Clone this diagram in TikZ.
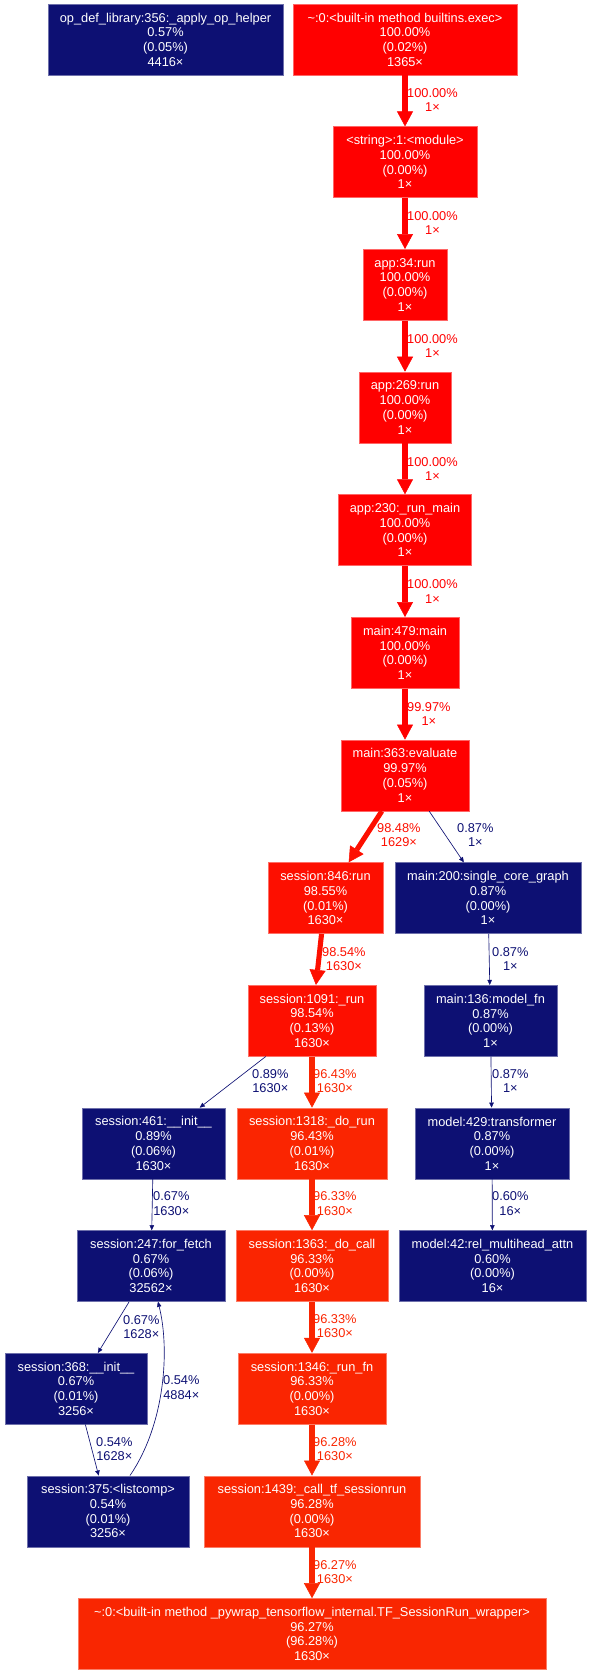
\documentclass[tikz,border=0pt]{standalone}
\usepackage{fontspec}
\setmainfont{Liberation Sans}
\usepackage{xcolor}
\usetikzlibrary{arrows.meta}
\definecolor{prof-red}{RGB}{255,0,0}
\definecolor{prof-redorange}{RGB}{253,15,0}
\definecolor{prof-orange}{RGB}{250,37,1}
\definecolor{prof-orangeb}{RGB}{249,38,1}
\definecolor{prof-blue}{RGB}{13,16,115}

\begin{document}
\begin{tikzpicture}[
  x=1pt, y=-1pt,
  fn/.style={rectangle, fill=#1, draw=#1!60!white, line width=0.6pt, minimum height=71pt, inner xsep=2pt, inner ysep=0pt, align=center, text=white, font=\fontsize{12.8}{14.7}\selectfont},
  hot/.style={-{Triangle[length=15pt,width=16pt,line width=0.5pt]}, line width=5.1pt, draw=#1},
  cold/.style={-{Triangle[length=5pt,width=4.5pt,line width=0.3pt]}, line width=0.65pt, draw=prof-blue},
  lbl/.style={anchor=west, align=center, text=#1, inner sep=0pt, font=\fontsize{12.8}{14.7}\selectfont},
]
  \useasboundingbox (0,0) rectangle (590,1675);

  % Top row
  \node[fn=prof-blue, minimum width=235] (opdef) at (165.5,39.5) {op\_def\_library:356:\_apply\_op\_helper\\0.57\%\\(0.05\%)\\4416×};
  \node[fn=prof-red, minimum width=224] (exec) at (405,39.5) {\textasciitilde:0:<built-in method builtins.exec>\\100.00\%\\(0.02\%)\\1365×};

  % Main chain
  \node[fn=prof-red, minimum width=144] (module) at (405,162.2) {<string>:1:<module>\\100.00\%\\(0.00\%)\\1×};
  \node[fn=prof-red, minimum width=84] (app34) at (405,284.8) {app:34:run\\100.00\%\\(0.00\%)\\1×};
  \node[fn=prof-red, minimum width=92] (app269) at (405,407.5) {app:269:run\\100.00\%\\(0.00\%)\\1×};
  \node[fn=prof-red, minimum width=133] (app230) at (405,530.1) {app:230:\_run\_main\\100.00\%\\(0.00\%)\\1×};
  \node[fn=prof-red, minimum width=108] (main479) at (405,652.8) {main:479:main\\100.00\%\\(0.00\%)\\1×};
  \node[fn=prof-red, minimum width=128] (evaluate) at (405,775.4) {main:363:evaluate\\99.97\%\\(0.05\%)\\1×};

  % Session branch
  \node[fn=prof-redorange, minimum width=115] (sess846) at (325.5,898.1) {session:846:run\\98.55\%\\(0.01\%)\\1630×};
  \node[fn=prof-redorange, minimum width=128] (sess1091) at (312,1020.7) {session:1091:\_run\\98.54\%\\(0.13\%)\\1630×};
  \node[fn=prof-orange, minimum width=150] (dorun) at (312,1143.4) {session:1318:\_do\_run\\96.43\%\\(0.01\%)\\1630×};
  \node[fn=prof-orange, minimum width=152] (docall) at (312,1266) {session:1363:\_do\_call\\96.33\%\\(0.00\%)\\1630×};
  \node[fn=prof-orange, minimum width=148] (runfn) at (312,1388.7) {session:1346:\_run\_fn\\96.33\%\\(0.00\%)\\1630×};
  \node[fn=prof-orangeb, minimum width=216] (calltf) at (312,1511.3) {session:1439:\_call\_tf\_sessionrun\\96.28\%\\(0.00\%)\\1630×};
  \node[fn=prof-orangeb, minimum width=468] (wrapper) at (312,1634) {\textasciitilde:0:<built-in method \_pywrap\_tensorflow\_internal.TF\_SessionRun\_wrapper>\\96.27\%\\(96.28\%)\\1630×};

  % Fetch branch
  \node[fn=prof-blue, minimum width=143] (init461) at (153.5,1143.4) {session:461:\_\_init\_\_\\0.89\%\\(0.06\%)\\1630×};
  \node[fn=prof-blue, minimum width=148] (forfetch) at (151,1266) {session:247:for\_fetch\\0.67\%\\(0.06\%)\\32562×};
  \node[fn=prof-blue, minimum width=142] (init368) at (76,1388.7) {session:368:\_\_init\_\_\\0.67\%\\(0.01\%)\\3256×};
  \node[fn=prof-blue, minimum width=162] (listcomp) at (108,1511.3) {session:375:<listcomp>\\0.54\%\\(0.01\%)\\3256×};

  % Graph branch
  \node[fn=prof-blue, minimum width=186] (single) at (488,898.1) {main:200:single\_core\_graph\\0.87\%\\(0.00\%)\\1×};
  \node[fn=prof-blue, minimum width=133] (modelfn) at (490.5,1020.7) {main:136:model\_fn\\0.87\%\\(0.00\%)\\1×};
  \node[fn=prof-blue, minimum width=154] (transformer) at (492,1143.4) {model:429:transformer\\0.87\%\\(0.00\%)\\1×};
  \node[fn=prof-blue, minimum width=187] (multihead) at (492.5,1266) {model:42:rel\_multihead\_attn\\0.60\%\\(0.00\%)\\16×};

  % Hot calls
  \draw[hot=prof-red] (exec) -- (module);
  \draw[hot=prof-red] (module) -- (app34);
  \draw[hot=prof-red] (app34) -- (app269);
  \draw[hot=prof-red] (app269) -- (app230);
  \draw[hot=prof-red] (app230) -- (main479);
  \draw[hot=prof-red] (main479) -- (evaluate);
  \draw[hot=prof-redorange] (evaluate) -- (sess846);
  \draw[hot=prof-redorange] (sess846) -- (sess1091);
  \draw[hot=prof-orange] (sess1091) -- (dorun);
  \draw[hot=prof-orange] (dorun) -- (docall);
  \draw[hot=prof-orange] (docall) -- (runfn);
  \draw[hot=prof-orangeb] (runfn) -- (calltf);
  \draw[hot=prof-orangeb] (calltf) -- (wrapper);

  % Cold calls
  \draw[cold] (evaluate) -- (single);
  \draw[cold] (single) -- (modelfn);
  \draw[cold] (modelfn) -- (transformer);
  \draw[cold] (transformer) -- (multihead);
  \draw[cold] (sess1091) -- (init461);
  \draw[cold] (init461) -- (forfetch);
  \draw[cold] (forfetch) -- (init368);
  \draw[cold] (init368) -- (listcomp);
  \draw[cold] ([xshift=22]listcomp.north) .. controls +(35,-51) and +(12,48) .. ([xshift=7]forfetch.south);

  % Edge labels
  \node[lbl=prof-red] (l-exec) at (407,100) {100.00\%\\1×};
  \node[lbl=prof-red] (l-module) at (407,223) {100.00\%\\1×};
  \node[lbl=prof-red] (l-app34) at (407,346) {100.00\%\\1×};
  \node[lbl=prof-red] (l-app269) at (407,469) {100.00\%\\1×};
  \node[lbl=prof-red] (l-app230) at (407,591.5) {100.00\%\\1×};
  \node[lbl=prof-red] (l-main479) at (407,714) {99.97\%\\1×};
  \node[lbl=prof-redorange] (l-evaluate) at (377,835) {98.48\%\\1629×};
  \node[lbl=prof-blue] (l-single) at (457,835) {0.87\%\\1×};
  \node[lbl=prof-redorange] (l-sess846) at (322,959) {98.54\%\\1630×};
  \node[lbl=prof-blue] (l-modelfn) at (492,959) {0.87\%\\1×};
  \node[lbl=prof-blue] (l-init461) at (252,1081) {0.89\%\\1630×};
  \node[lbl=prof-orange] (l-dorun) at (313,1081) {96.43\%\\1630×};
  \node[lbl=prof-blue] (l-transformer) at (492,1081) {0.87\%\\1×};
  \node[lbl=prof-blue] (l-forfetch) at (153,1203.5) {0.67\%\\1630×};
  \node[lbl=prof-orange] (l-docall) at (313,1203.5) {96.33\%\\1630×};
  \node[lbl=prof-blue] (l-multihead) at (492,1203.5) {0.60\%\\16×};
  \node[lbl=prof-blue] (l-init368) at (123,1327) {0.67\%\\1628×};
  \node[lbl=prof-blue] (l-back) at (163,1387.5) {0.54\%\\4884×};
  \node[lbl=prof-orange] (l-runfn) at (313,1326) {96.33\%\\1630×};
  \node[lbl=prof-blue] (l-listcomp) at (96,1449) {0.54\%\\1628×};
  \node[lbl=prof-orangeb] (l-calltf) at (313,1449) {96.28\%\\1630×};
  \node[lbl=prof-orangeb] (l-wrapper) at (313,1572) {96.27\%\\1630×};
\end{tikzpicture}
\end{document}
